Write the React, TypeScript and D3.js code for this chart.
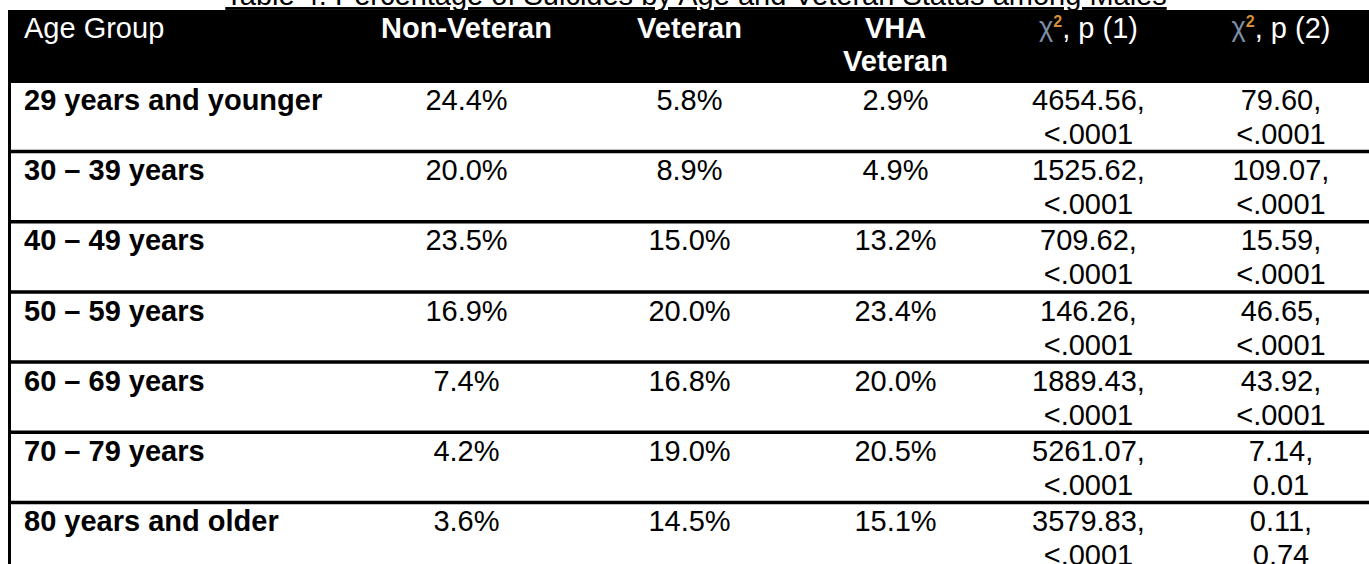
import React, { useRef, useEffect } from "react";
import * as d3 from "d3";

// table content
const title = "Table 4: Percentage of Suicides by Age and Veteran Status among Males";
const ageGroups = [
  "29 years and younger",
  "30 – 39 years",
  "40 – 49 years",
  "50 – 59 years",
  "60 – 69 years",
  "70 – 79 years",
  "80 years and older",
];
const nonVeteran = [24.4, 20.0, 23.5, 16.9, 7.4, 4.2, 3.6];
const veteran = [5.8, 8.9, 15.0, 20.0, 16.8, 19.0, 14.5];
const vhaVeteran = [2.9, 4.9, 13.2, 23.4, 20.0, 20.5, 15.1];
const chi1 = ["4654.56", "1525.62", "709.62", "146.26", "1889.43", "5261.07", "3579.83"];
const p1 = ["<.0001", "<.0001", "<.0001", "<.0001", "<.0001", "<.0001", "<.0001"];
const chi2 = ["79.60", "109.07", "15.59", "46.65", "43.92", "7.14", "0.11"];
const p2 = ["<.0001", "<.0001", "<.0001", "<.0001", "<.0001", "0.01", "0.74"];

function App() {
  const svgRef = useRef(null);

  useEffect(() => {
    const W = 1369;
    const H = 564;
    const font = "'Liberation Sans', Arial, sans-serif";
    const fs = 29;

    const svg = d3.select(svgRef.current).attr("width", W).attr("height", H);
    svg.selectAll("*").remove();

    // layout: column widths starting at the left border
    const left = 8;
    const colWidths = [344, 229, 217, 195, 191, 194];
    const edges = [left, ...Array.from(d3.cumsum(colWidths), (d) => left + d)];
    const colCenter = (i) => (edges[i] + edges[i + 1]) / 2;

    const headerTop = 10;
    const headerBottom = 83;
    const rowH = 70.2;
    const top = 81.3;

    const y = d3
      .scaleBand()
      .domain(ageGroups)
      .range([top, top + rowH * ageGroups.length])
      .paddingInner(0);

    const pct = (v) => d3.format(".1f")(v) + "%";

    svg.append("rect").attr("width", W).attr("height", H).attr("fill", "#fff");

    // title (cut at the top of the picture)
    svg
      .append("text")
      .attr("x", 696)
      .attr("y", 5)
      .attr("text-anchor", "middle")
      .attr("font-family", font)
      .attr("font-size", fs)
      .attr("fill", "#000")
      .style("text-decoration", "underline")
      .text(title);

    // header band
    svg
      .append("rect")
      .attr("x", left)
      .attr("y", headerTop)
      .attr("width", W - left)
      .attr("height", headerBottom - headerTop)
      .attr("fill", "#000");

    const head = svg.append("g").attr("font-family", font).attr("font-size", fs).attr("fill", "#fff");
    const hb1 = 37.7;
    const hb2 = 71;

    head.append("text").attr("x", 24).attr("y", hb1).text("Age Group");
    head
      .append("text")
      .attr("x", colCenter(1))
      .attr("y", hb1)
      .attr("text-anchor", "middle")
      .attr("font-weight", "bold")
      .text("Non-Veteran");
    head
      .append("text")
      .attr("x", colCenter(2))
      .attr("y", hb1)
      .attr("text-anchor", "middle")
      .attr("font-weight", "bold")
      .text("Veteran");
    head
      .append("text")
      .attr("x", colCenter(3))
      .attr("y", hb1)
      .attr("text-anchor", "middle")
      .attr("font-weight", "bold")
      .text("VHA");
    head
      .append("text")
      .attr("x", colCenter(3))
      .attr("y", hb2)
      .attr("text-anchor", "middle")
      .attr("font-weight", "bold")
      .text("Veteran");

    // chi-square headings: the symbol is a small coloured picture in the source
    [1, 2].forEach((k, i) => {
      const t = head
        .append("text")
        .attr("x", colCenter(4 + i))
        .attr("y", hb1)
        .attr("text-anchor", "middle");
      t.append("tspan").attr("fill", "#7d8fa6").attr("font-size", 27).attr("dy", -2).text("χ");
      t.append("tspan").attr("fill", "#d3913a").attr("font-size", 16).attr("font-weight", "bold").attr("dy", -9).text("2");
      t.append("tspan").attr("dy", 11).text(`, p (${k})`);
    });

    // rows
    const rows = svg
      .append("g")
      .attr("font-family", font)
      .attr("font-size", fs)
      .attr("fill", "#000")
      .selectAll("g")
      .data(ageGroups)
      .join("g")
      .attr("transform", (d) => `translate(0,${y(d)})`);

    const b1 = 28.7;
    const b2 = 62.7;

    rows
      .append("text")
      .attr("x", 24)
      .attr("y", b1)
      .attr("font-weight", "bold")
      .text((d) => d);

    const cell = (col, vals, base) =>
      rows
        .append("text")
        .attr("x", colCenter(col))
        .attr("y", base)
        .attr("text-anchor", "middle")
        .text((d, i) => vals[i]);

    cell(1, nonVeteran.map(pct), b1);
    cell(2, veteran.map(pct), b1);
    cell(3, vhaVeteran.map(pct), b1);
    cell(4, chi1.map((v) => v + ","), b1);
    cell(4, p1, b2);
    cell(5, chi2.map((v) => v + ","), b1);
    cell(5, p2, b2);

    // row rules
    svg
      .append("g")
      .selectAll("line")
      .data(ageGroups)
      .join("line")
      .attr("x1", left)
      .attr("x2", W)
      .attr("y1", (d) => y(d) + y.bandwidth())
      .attr("y2", (d) => y(d) + y.bandwidth())
      .attr("stroke", "#000")
      .attr("stroke-width", 3.5);

    // left border
    svg
      .append("line")
      .attr("x1", left + 1.5)
      .attr("x2", left + 1.5)
      .attr("y1", headerTop)
      .attr("y2", H)
      .attr("stroke", "#000")
      .attr("stroke-width", 3);
  }, []);

  return (
    <svg
      ref={svgRef}
      style={{ position: "absolute", left: 0, top: 0, display: "block" }}
    ></svg>
  );
}

export default App;
